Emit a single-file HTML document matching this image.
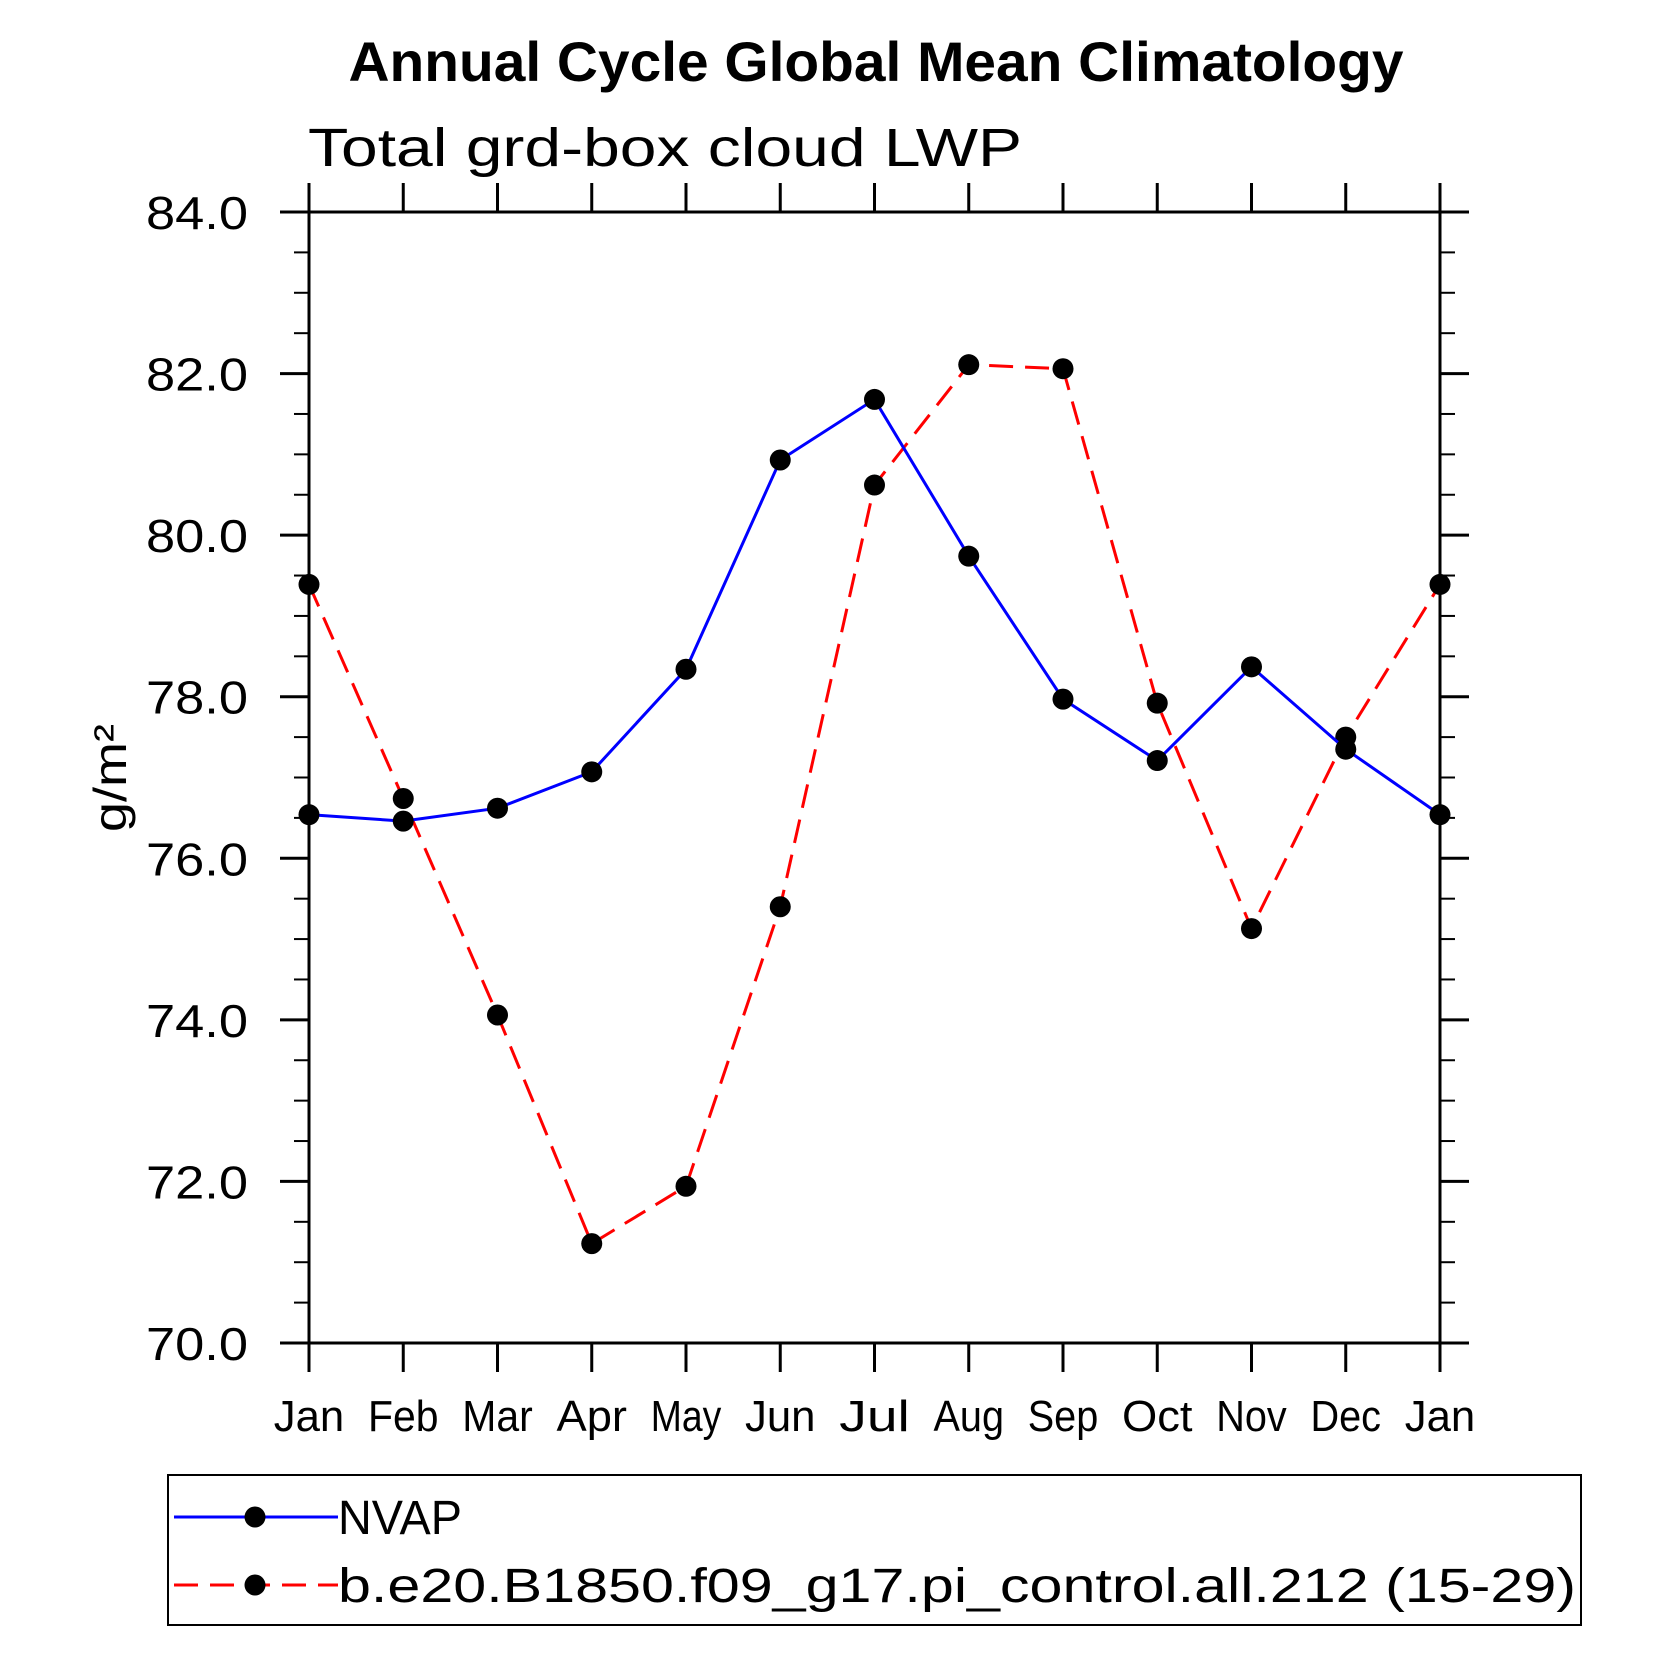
<!DOCTYPE html>
<html><head><meta charset="utf-8"><style>html,body{margin:0;padding:0;background:#fff}svg{display:block}text{font-family:"Liberation Sans",sans-serif}</style></head>
<body>
<svg id="chart" width="1663" height="1663" viewBox="0 0 1663 1663" xmlns="http://www.w3.org/2000/svg">
<text x="876" y="81" text-anchor="middle" font-size="56" font-weight="bold" textLength="1055" lengthAdjust="spacingAndGlyphs">Annual Cycle Global Mean Climatology</text>
<text x="308" y="166" font-size="54" textLength="714" lengthAdjust="spacingAndGlyphs">Total grd-box cloud LWP</text>
<text transform="translate(126,778) rotate(-90)" text-anchor="middle" font-size="46" textLength="108" lengthAdjust="spacingAndGlyphs">g/m²</text>
<g id="axes"></g>
<g id="series"></g>
<rect x="168" y="1475" width="1413" height="150" fill="none" stroke="#000" stroke-width="2"/>
<g id="legend"></g>
</svg>
<script>
const months = ["Jan","Feb","Mar","Apr","May","Jun","Jul","Aug","Sep","Oct","Nov","Dec","Jan"];
const nvap = [76.54,76.46,76.62,77.07,78.34,80.93,81.68,79.74,77.97,77.21,78.37,77.35,76.54];
const model = [79.39,76.74,74.06,71.23,71.94,75.40,80.62,82.11,82.06,77.92,75.13,77.50,79.39];
const yTicks = [70,72,74,76,78,80,82,84];
const yTickLabels = ["70.0","72.0","74.0","76.0","78.0","80.0","82.0","84.0"];
const seriesNames = ["NVAP","b.e20.B1850.f09_g17.pi_control.all.212 (15-29)"];

const NS="http://www.w3.org/2000/svg";
const L=309,R=1440,T=212,B=1343,yMin=70,yMax=84;
const xs=i=>L+(R-L)*i/(months.length-1);
const ys=v=>B-(v-yMin)/(yMax-yMin)*(B-T);
function mk(tag,attrs,parent){const e=document.createElementNS(NS,tag);for(const k in attrs)e.setAttribute(k,attrs[k]);parent.appendChild(e);return e;}
const ax=document.getElementById('axes');
const frame=mk('rect',{x:L,y:T,width:R-L,height:B-T,fill:'none',stroke:'#000','stroke-width':3},ax);


for(let v=yMin;v<=yMax+1e-9;v+=0.5){
  const y=ys(v);const major=Math.abs(v-Math.round(v/2)*2)<1e-6;const len=major?29:15;
  const t1=mk('line',{x1:L-len,y1:y,x2:L,y2:y,stroke:'#000','stroke-width':major?3:2},ax);
  
  
  const t2=mk('line',{x1:R,y1:y,x2:R+len,y2:y,stroke:'#000','stroke-width':major?3:2},ax);
  
  
}
yTicks.forEach((v,i)=>{
  const t=mk('text',{x:248,y:ys(v)+17,'text-anchor':'end','font-size':46,textLength:102,lengthAdjust:'spacingAndGlyphs'},ax);
  t.textContent=yTickLabels[i];
  
  
});
months.forEach((m,i)=>{
  const x=xs(i);
  const a=mk('line',{x1:x,y1:B,x2:x,y2:B+29,stroke:'#000','stroke-width':3},ax);
  
  
  const b=mk('line',{x1:x,y1:T-29,x2:x,y2:T,stroke:'#000','stroke-width':3},ax);
  
  
  const t=mk('text',{x:x,y:1431,'text-anchor':'middle','font-size':44,textLength:m.length*23.5,lengthAdjust:'spacingAndGlyphs'},ax);
  t.textContent=m;
  
  
});
const sg=document.getElementById('series');
function drawSeries(vals,color,dash,name){
  const pts=vals.map((v,i)=>xs(i)+','+ys(v)).join(' ');
  const pl=mk('polyline',{points:pts,fill:'none',stroke:color,'stroke-width':3,'stroke-dasharray':dash},sg);
  
  
  vals.forEach((v,i)=>{
    const c=mk('circle',{cx:xs(i),cy:ys(v),r:10.5,fill:'#000'},sg);
    
    
  });
}
drawSeries(model,'#ff0000','24 12','model');
drawSeries(nvap,'#0000ff','none','nvap');
const lg=document.getElementById('legend');
[[1517,'#0000ff','none'],[1585,'#ff0000','24 12']].forEach((d,i)=>{
  const l=mk('line',{x1:174,y1:d[0],x2:338,y2:d[0],stroke:d[1],'stroke-width':3,'stroke-dasharray':d[2]},lg);
  
  
  const c=mk('circle',{cx:255,cy:d[0],r:10.5,fill:'#000'},lg);
  
  
  const attrs={x:338,y:d[0]+17,'font-size':48,lengthAdjust:'spacingAndGlyphs'};
  attrs.textLength = i===1 ? 1238 : 124;
  const t=mk('text',attrs,lg);
  t.textContent=seriesNames[i];
  
  
});
</script>
</body></html>
